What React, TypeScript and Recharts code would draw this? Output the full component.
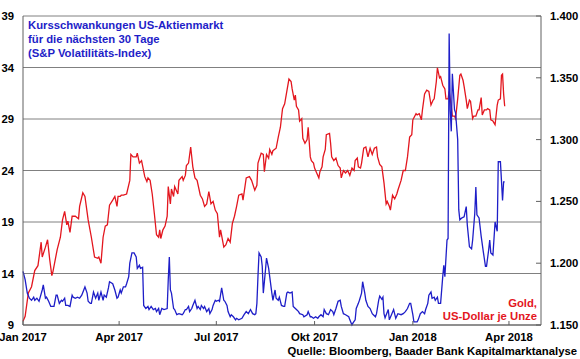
import React from 'react';
import { LineChart, Line, CartesianGrid, XAxis, YAxis } from 'recharts';

// [days since 1 Jan 2017, gold price in USD per ounce]
const goldPoints: [number, number][] = [
  [0, 1153], [2, 1157], [5, 1176], [8, 1181], [11, 1194], [14, 1198], [17, 1217], [18, 1205], [21, 1213], [23, 1219],
  [25, 1203], [27, 1190], [28, 1193], [32, 1211], [35, 1221], [37, 1235], [39, 1242], [41, 1231], [42, 1234], [44, 1225],
  [46, 1238], [49, 1238], [52, 1236], [53, 1246], [56, 1257], [58, 1254], [61, 1235], [64, 1221], [67, 1205], [70, 1204],
  [71, 1205], [73, 1200], [75, 1221], [77, 1230], [79, 1231], [81, 1247], [84, 1251], [86, 1254], [88, 1246], [89, 1254],
  [91, 1254], [92, 1255], [94, 1255], [97, 1256], [100, 1267], [101, 1288], [103, 1286], [106, 1286], [107, 1289], [109, 1281],
  [111, 1283], [114, 1270], [116, 1266], [117, 1269], [119, 1267], [121, 1256], [123, 1240], [125, 1223], [127, 1221], [128, 1227],
  [129, 1220], [131, 1227], [133, 1230], [135, 1238], [136, 1262], [138, 1248], [139, 1260], [141, 1254], [142, 1262], [145, 1256],
  [146, 1267], [149, 1270], [150, 1267], [152, 1271], [153, 1279], [155, 1281], [157, 1294], [159, 1278], [161, 1269], [163, 1267],
  [166, 1255], [168, 1252], [170, 1246], [172, 1248], [174, 1258], [176, 1248], [178, 1250], [180, 1243], [182, 1240], [184, 1221],
  [185, 1227], [188, 1213], [190, 1215], [192, 1220], [194, 1217], [196, 1232], [198, 1238], [200, 1246], [202, 1255], [205, 1256],
  [206, 1251], [209, 1269], [212, 1270], [214, 1267], [217, 1259], [219, 1263], [220, 1281], [223, 1289], [225, 1288], [226, 1274],
  [228, 1288], [230, 1285], [231, 1292], [233, 1288], [234, 1291], [237, 1293], [239, 1302], [241, 1310], [243, 1325], [245, 1329],
  [247, 1339], [249, 1349], [251, 1347], [252, 1341], [254, 1332], [255, 1336], [256, 1327], [258, 1324], [259, 1315], [261, 1317],
  [262, 1301], [264, 1297], [266, 1300], [267, 1310], [269, 1286], [270, 1283], [272, 1281], [273, 1277], [275, 1273], [277, 1269],
  [278, 1274], [280, 1278], [281, 1286], [283, 1292], [284, 1304], [287, 1305], [288, 1297], [289, 1286], [291, 1283], [293, 1285],
  [295, 1279], [297, 1277], [298, 1269], [300, 1275], [302, 1273], [304, 1275], [306, 1271], [308, 1277], [310, 1275], [311, 1283],
  [313, 1285], [314, 1278], [316, 1277], [317, 1281], [319, 1293], [321, 1294], [323, 1286], [325, 1293], [327, 1288], [329, 1293],
  [331, 1294], [332, 1286], [334, 1280], [336, 1278], [338, 1265], [340, 1248], [341, 1250], [343, 1246], [344, 1243], [346, 1255],
  [348, 1252], [350, 1256], [351, 1259], [354, 1267], [356, 1275], [358, 1275], [360, 1286], [362, 1302], [364, 1304], [365, 1316],
  [368, 1321], [369, 1320], [371, 1321], [373, 1316], [374, 1324], [376, 1337], [378, 1340], [380, 1339], [382, 1328], [384, 1332],
  [385, 1333], [387, 1347], [388, 1358], [390, 1350], [391, 1351], [393, 1344], [395, 1341], [396, 1333], [398, 1333], [399, 1339],
  [401, 1327], [402, 1319], [404, 1319], [405, 1317], [407, 1333], [409, 1352], [410, 1353], [412, 1348], [413, 1343], [415, 1332],
  [416, 1325], [418, 1332], [419, 1331], [421, 1317], [422, 1319], [424, 1319], [426, 1324], [427, 1324], [429, 1334], [430, 1320],
  [432, 1324], [434, 1324], [435, 1325], [437, 1324], [438, 1316], [440, 1315], [442, 1312], [444, 1328], [445, 1332], [447, 1333],
  [448, 1352], [449, 1353], [450, 1337], [451, 1327],
];

// [days since 1 Jan 2017, VIX level]
const vixPoints: [number, number][] = [
  [0, 14.2], [2, 13.4], [4, 12.1], [6, 11.6], [8, 11.4], [10, 11.7], [11, 11.4], [13, 11.6], [15, 11.3], [18, 12.4],
  [19, 12.9], [21, 11.6], [22, 11.7], [24, 11.3], [26, 10.8], [27, 10.8], [29, 10.8], [31, 11.9], [32, 11.9], [34, 11.1],
  [36, 11.4], [37, 11.3], [39, 11.6], [40, 10.9], [42, 10.9], [44, 10.8], [46, 11.9], [47, 11.7], [49, 11.6], [51, 11.7],
  [53, 11.6], [55, 11.9], [58, 12.7], [60, 12.1], [61, 11.3], [63, 11.1], [64, 11.1], [66, 12.2], [68, 11.6], [70, 12.1],
  [71, 11.4], [73, 12.2], [75, 11.4], [76, 11.9], [78, 11.7], [80, 12.6], [81, 13.2], [84, 13.0], [86, 12.4], [88, 11.6],
  [89, 11.7], [91, 12.4], [92, 12.1], [94, 12.7], [96, 12.7], [97, 13.0], [99, 13.7], [100, 15.0], [102, 16.0], [104, 16.0],
  [106, 15.6], [107, 14.5], [109, 14.8], [110, 14.5], [112, 14.6], [113, 10.9], [115, 10.6], [117, 10.8], [118, 10.5], [120, 10.8],
  [122, 10.5], [124, 10.6], [125, 10.3], [127, 10.6], [128, 10.0], [130, 10.6], [132, 10.5], [135, 10.6], [136, 13.4], [137, 15.6],
  [138, 12.4], [139, 12.1], [141, 10.6], [142, 10.5], [144, 10.0], [146, 10.1], [149, 10.0], [150, 10.1], [152, 10.5], [153, 10.5],
  [155, 10.8], [156, 10.3], [158, 10.6], [159, 10.9], [161, 11.4], [163, 10.6], [164, 10.8], [166, 10.5], [167, 10.9], [169, 10.6],
  [170, 10.8], [172, 10.3], [174, 10.6], [175, 10.1], [177, 10.5], [178, 10.9], [180, 11.4], [181, 11.3], [183, 11.4], [184, 11.3],
  [186, 12.6], [188, 11.4], [189, 11.3], [191, 10.9], [192, 10.3], [194, 9.8], [195, 10.0], [197, 9.8], [199, 9.5], [200, 9.65],
  [202, 9.5], [205, 9.65], [207, 10.0], [209, 10.3], [211, 10.1], [213, 10.5], [215, 10.1], [217, 10.0], [218, 10.1], [219, 11.1],
  [220, 13.7], [221, 16.0], [223, 15.6], [224, 14.7], [225, 12.1], [227, 14.3], [228, 15.5], [230, 14.5], [231, 13.7], [233, 12.1],
  [234, 11.4], [236, 12.4], [237, 11.6], [239, 11.4], [240, 11.7], [242, 10.9], [244, 10.8], [245, 10.8], [247, 12.1], [248, 12.2],
  [250, 12.1], [252, 12.2], [253, 10.8], [255, 10.6], [256, 10.5], [258, 10.3], [259, 10.1], [262, 10.0], [263, 9.8], [266, 10.0],
  [267, 10.3], [269, 9.8], [270, 9.8], [272, 9.65], [274, 9.8], [276, 9.65], [277, 9.8], [279, 10.0], [281, 9.8], [282, 10.5],
  [284, 10.1], [286, 10.0], [288, 10.5], [290, 10.3], [291, 10.0], [293, 10.6], [295, 11.3], [297, 11.4], [298, 10.8], [300, 10.1],
  [302, 10.0], [305, 9.8], [306, 9.5], [308, 9.0], [309, 9.2], [311, 9.5], [312, 10.6], [314, 11.1], [315, 11.4], [317, 12.1],
  [318, 13.2], [320, 12.1], [321, 11.4], [323, 10.8], [325, 10.6], [327, 10.1], [328, 10.0], [330, 9.8], [331, 10.1], [333, 11.4],
  [334, 11.8], [336, 11.5], [337, 11.7], [338, 10.1], [339, 9.7], [342, 10.5], [343, 9.5], [345, 10.0], [347, 10.5], [349, 9.65],
  [351, 10.1], [354, 10.0], [356, 10.1], [358, 10.3], [360, 10.6], [362, 11.1], [363, 11.1], [365, 10.0], [366, 9.3], [369, 9.3],
  [370, 9.5], [372, 10.1], [374, 10.3], [376, 10.1], [377, 10.5], [379, 11.1], [380, 11.9], [382, 12.2], [383, 11.6], [385, 11.7],
  [386, 11.4], [388, 11.7], [389, 11.1], [391, 11.1], [393, 13.7], [394, 14.8], [395, 13.7], [397, 17.25], [398, 17.4], [399, 37.3],
  [400, 29.9], [401, 27.8], [402, 33.4], [404, 29.9], [405, 29.6], [407, 27.0], [408, 20.2], [409, 19.2], [411, 19.4], [413, 19.5],
  [415, 20.5], [416, 18.7], [418, 16.6], [420, 16.4], [421, 17.25], [423, 19.85], [424, 22.4], [425, 19.7], [427, 19.4], [429, 17.6],
  [431, 16.1], [433, 14.7], [434, 14.7], [436, 16.3], [437, 17.25], [438, 16.0], [440, 15.8], [442, 19.0], [444, 18.1], [445, 24.85],
  [447, 24.85], [449, 21.1], [450, 22.9], [451, 22.9],
];

const monthTicks = [0, 90, 181, 273, 365, 455];
const monthLabels = ['Jan 2017', 'Apr 2017', 'Jul 2017', 'Okt 2017', 'Jan 2018', 'Apr 2018'];
const vixTicks = [9, 14, 19, 24, 29, 34, 39];
const goldTicks = [1150, 1200, 1250, 1300, 1350, 1400];

const RED = '#e3161e';
const BLUE = '#1e1ec8';
const FONT = '"Liberation Sans", Arial, sans-serif';

interface Row {
  day: number;
  gold?: number;
  vix?: number;
}

// one table keyed by day, both series share the x axis
const rowMap: { [key: number]: Row } = {};
goldPoints.forEach(([d, v]) => {
  rowMap[d] = { ...(rowMap[d] || { day: d }), gold: v };
});
vixPoints.forEach(([d, v]) => {
  rowMap[d] = { ...(rowMap[d] || { day: d }), vix: v };
});
const rows = Object.values(rowMap).sort((a, b) => a.day - b.day);

const tickStyle = { fill: '#000', fontSize: 11.3, fontWeight: 700, fontFamily: FONT };

export default function App() {
  return (
    <div
      style={{
        position: 'absolute',
        left: 0,
        top: 0,
        width: 580,
        height: 359,
        background: '#fff',
        fontFamily: FONT,
      }}
    >
      <LineChart width={580} height={359} data={rows} margin={{ top: 16, right: 0, bottom: 0, left: 0 }}>
        <CartesianGrid yAxisId="vix" vertical={false} stroke="#808080" />
        <XAxis
          dataKey="day"
          type="number"
          domain={[0, 485]}
          ticks={monthTicks}
          interval={0}
          tickFormatter={(d: number) => monthLabels[monthTicks.indexOf(d)]}
          height={34}
          tickSize={-4}
          tickMargin={12}
          stroke="#606060"
          tick={tickStyle}
        />
        <YAxis
          yAxisId="vix"
          domain={[9, 39]}
          ticks={vixTicks}
          interval={0}
          width={23}
          tickLine={false}
          tickSize={0}
          tickMargin={9}
          stroke="#606060"
          tick={tickStyle}
        />
        <YAxis
          yAxisId="gold"
          orientation="right"
          domain={[1150, 1400]}
          ticks={goldTicks}
          interval={0}
          width={39}
          tickSize={-5}
          tickMargin={14}
          stroke="#606060"
          tick={tickStyle}
          tickFormatter={(v: number) => (v / 1000).toFixed(3)}
        />
        <Line
          yAxisId="gold"
          type="linear"
          dataKey="gold"
          stroke={RED}
          strokeWidth={1.3}
          dot={false}
          connectNulls
          isAnimationActive={false}
        />
        <Line
          yAxisId="vix"
          type="linear"
          dataKey="vix"
          stroke={BLUE}
          strokeWidth={1.3}
          dot={false}
          connectNulls
          isAnimationActive={false}
        />
      </LineChart>

      <div
        style={{
          position: 'absolute',
          left: 28,
          top: 17.6,
          color: BLUE,
          fontWeight: 700,
          fontSize: 11.3,
          lineHeight: '14px',
        }}
      >
        Kursschwankungen US-Aktienmarkt
        <br />
        für die nächsten 30 Tage
        <br />
        (S&amp;P Volatilitäts-Index)
      </div>

      <div
        style={{
          position: 'absolute',
          right: 43,
          top: 296.6,
          color: RED,
          fontWeight: 700,
          fontSize: 11.3,
          lineHeight: '13px',
          textAlign: 'right',
        }}
      >
        Gold,
        <br />
        US-Dollar je Unze
      </div>

      <div
        style={{
          position: 'absolute',
          right: 3,
          top: 344.6,
          color: '#000',
          fontWeight: 700,
          fontSize: 11.3,
          lineHeight: '13px',
          whiteSpace: 'nowrap',
        }}
      >
        Quelle: Bloomberg, Baader Bank Kapitalmarktanalyse
      </div>
    </div>
  );
}
